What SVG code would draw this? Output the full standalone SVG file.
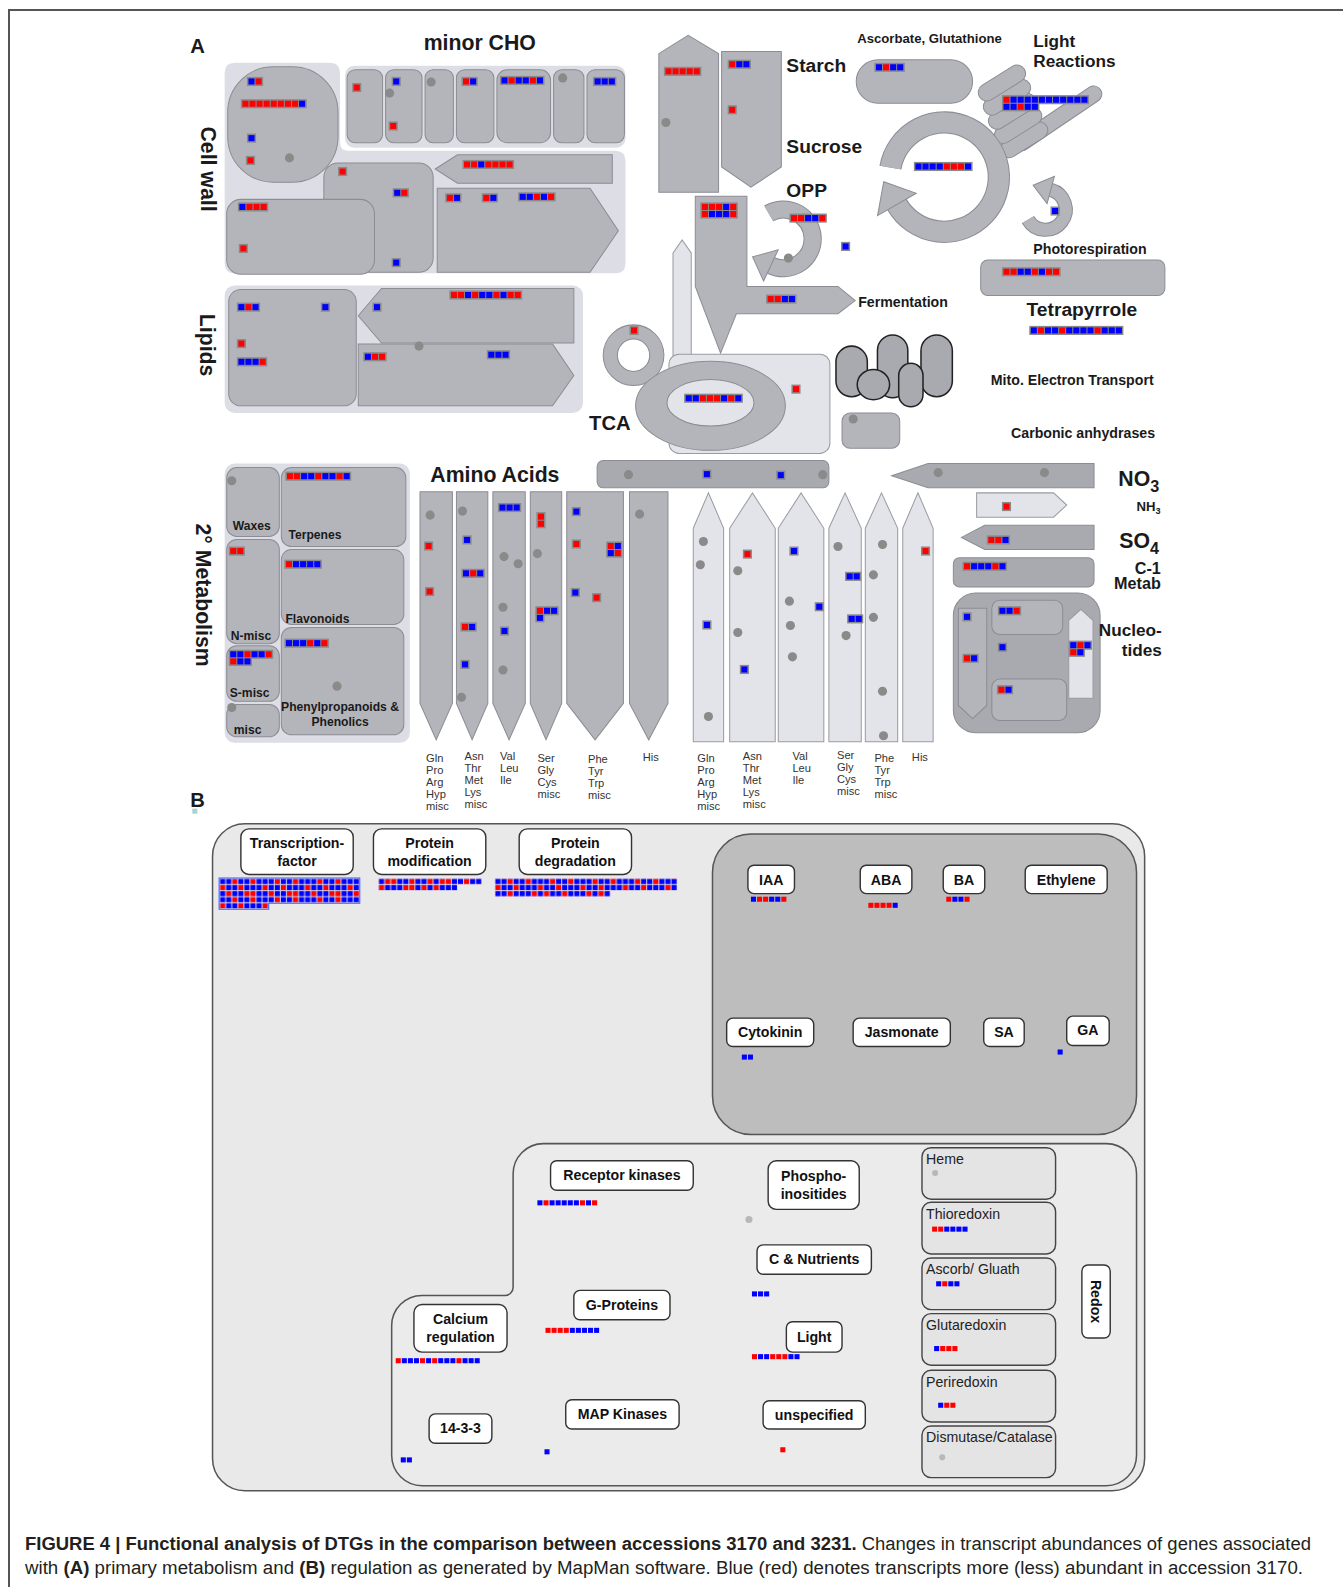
<svg xmlns="http://www.w3.org/2000/svg" width="1343" height="1587" viewBox="0 0 1343 1587">
<style>
.sh{fill:#b4b4bb;stroke:#8c8c94;stroke-width:1}
.pn{fill:#dddde5}
.lt{fill:#e3e3ea;stroke:#9a9aa2;stroke-width:1}
.dk{fill:#a9a9b0;stroke:#8c8c94;stroke-width:1}
.mb{fill:#8a8a8a}
.t{font-family:"Liberation Sans",Arial,Helvetica,sans-serif;font-weight:bold;fill:#1a1a1a}
.aa{font-family:"Liberation Sans",Arial,sans-serif;font-size:11px;fill:#333}
.bx{fill:#fff;stroke:#333;stroke-width:1.4}
.bt{font-family:"Liberation Sans",Arial,sans-serif;font-weight:bold;font-size:14px;text-anchor:middle;fill:#111}
.rx{fill:#e4e4e4;stroke:#444;stroke-width:1.4}
.rt{font-family:"Liberation Sans",Arial,sans-serif;font-size:14px;fill:#222}
.mito{fill:#a9a9b0;stroke:#222;stroke-width:1.5}
.cap{font-family:"Liberation Sans",Arial,sans-serif;font-size:18px;fill:#231f20}
.arcO{fill:none;stroke:#8c8c94}
.arcI{fill:none;stroke:#b4b4bb}
</style>
<defs>
<rect id="r" width="6" height="6" fill="#ff0000"/>
<rect id="b" width="6" height="6" fill="#0000ff"/>
<rect id="r5" width="5" height="5" fill="#ff0000"/>
<rect id="b5" width="5" height="5" fill="#0000ff"/>
<circle id="d" r="4.5" fill="#8a8a8a"/>
<pattern id="mixA" patternUnits="userSpaceOnUse" width="42" height="18">
<rect width="42" height="18" fill="#d4d4e4"/>
<use href="#b5" x="0.5" y="0.5"/><use href="#b5" x="6.5" y="0.5"/><use href="#r5" x="12.5" y="0.5"/><use href="#b5" x="18.5" y="0.5"/><use href="#b5" x="24.5" y="0.5"/><use href="#r5" x="30.5" y="0.5"/><use href="#b5" x="36.5" y="0.5"/>
<use href="#r5" x="0.5" y="6.5"/><use href="#b5" x="6.5" y="6.5"/><use href="#b5" x="12.5" y="6.5"/><use href="#r5" x="18.5" y="6.5"/><use href="#b5" x="24.5" y="6.5"/><use href="#b5" x="30.5" y="6.5"/><use href="#b5" x="36.5" y="6.5"/>
<use href="#b5" x="0.5" y="12.5"/><use href="#r5" x="6.5" y="12.5"/><use href="#b5" x="12.5" y="12.5"/><use href="#b5" x="18.5" y="12.5"/><use href="#r5" x="24.5" y="12.5"/><use href="#r5" x="30.5" y="12.5"/><use href="#b5" x="36.5" y="12.5"/>
</pattern>
<pattern id="mixB" patternUnits="userSpaceOnUse" width="54" height="18">
<rect width="54" height="18" fill="#d4d4e4"/>
<use href="#b5" x="0.5" y="0.5"/><use href="#r5" x="6.5" y="0.5"/><use href="#r5" x="12.5" y="0.5"/><use href="#b5" x="18.5" y="0.5"/><use href="#b5" x="24.5" y="0.5"/><use href="#r5" x="30.5" y="0.5"/><use href="#b5" x="36.5" y="0.5"/><use href="#b5" x="42.5" y="0.5"/><use href="#r5" x="48.5" y="0.5"/>
<use href="#r5" x="0.5" y="6.5"/><use href="#b5" x="6.5" y="6.5"/><use href="#b5" x="12.5" y="6.5"/><use href="#b5" x="18.5" y="6.5"/><use href="#r5" x="24.5" y="6.5"/><use href="#r5" x="30.5" y="6.5"/><use href="#b5" x="36.5" y="6.5"/><use href="#r5" x="42.5" y="6.5"/><use href="#b5" x="48.5" y="6.5"/>
<use href="#b5" x="0.5" y="12.5"/><use href="#b5" x="6.5" y="12.5"/><use href="#r5" x="12.5" y="12.5"/><use href="#b5" x="18.5" y="12.5"/><use href="#b5" x="24.5" y="12.5"/><use href="#b5" x="30.5" y="12.5"/><use href="#r5" x="36.5" y="12.5"/><use href="#b5" x="42.5" y="12.5"/><use href="#r5" x="48.5" y="12.5"/>
</pattern>
</defs>
<rect width="1343" height="1587" fill="#fff"/>
<path d="M9,1587 V10 H1343" fill="none" stroke="#555" stroke-width="2"/>
<g transform="scale(1.01206)">
<text class="t" x="188" y="52" font-size="20">A</text>
<!-- Cell wall -->
<g id="cell-wall">
<path class="pn" d="M232,62 H326 Q336,62 336,72 V141 Q336,149 344,149 H608 Q618,149 618,159 V260 Q618,270 608,270 H232 Q222,270 222,260 V72 Q222,62 232,62 Z"/>
<rect class="sh" x="225" y="66" width="109" height="114" rx="45"/>
<rect class="sh" x="320" y="161" width="108" height="108" rx="14"/>
<rect class="sh" x="224" y="197" width="146" height="74" rx="14"/>
<polygon class="sh" points="430,167 452,153 605,153 605,181 452,181"/>
<polygon class="sh" points="432,186 583,186 611,228 583,269 432,269"/>
<use href="#d" x="286" y="156"/>
<g transform="translate(244,76)"><rect class="mb" width="16" height="9"/><use href="#b" x="1.5" y="1.5"/><use href="#r" x="8.5" y="1.5"/></g>
<g transform="translate(238,98)"><rect class="mb" width="65" height="9"/><use href="#r" x="1.5" y="1.5"/><use href="#r" x="8.5" y="1.5"/><use href="#r" x="15.5" y="1.5"/><use href="#r" x="22.5" y="1.5"/><use href="#r" x="29.5" y="1.5"/><use href="#r" x="36.5" y="1.5"/><use href="#r" x="43.5" y="1.5"/><use href="#r" x="50.5" y="1.5"/><use href="#b" x="57.5" y="1.5"/></g>
<g transform="translate(244,132)"><rect class="mb" width="9" height="9"/><use href="#b" x="1.5" y="1.5"/></g>
<g transform="translate(243,154)"><rect class="mb" width="9" height="9"/><use href="#r" x="1.5" y="1.5"/></g>
<g transform="translate(334,165)"><rect class="mb" width="9" height="9"/><use href="#r" x="1.5" y="1.5"/></g>
<g transform="translate(388,186)"><rect class="mb" width="16" height="9"/><use href="#b" x="1.5" y="1.5"/><use href="#r" x="8.5" y="1.5"/></g>
<g transform="translate(387,255)"><rect class="mb" width="9" height="9"/><use href="#b" x="1.5" y="1.5"/></g>
<g transform="translate(235,200)"><rect class="mb" width="30" height="9"/><use href="#b" x="1.5" y="1.5"/><use href="#r" x="8.5" y="1.5"/><use href="#r" x="15.5" y="1.5"/><use href="#r" x="22.5" y="1.5"/></g>
<g transform="translate(236,241)"><rect class="mb" width="9" height="9"/><use href="#r" x="1.5" y="1.5"/></g>
<g transform="translate(457,158)"><rect class="mb" width="51" height="9"/><use href="#r" x="1.5" y="1.5"/><use href="#r" x="8.5" y="1.5"/><use href="#b" x="15.5" y="1.5"/><use href="#r" x="22.5" y="1.5"/><use href="#r" x="29.5" y="1.5"/><use href="#r" x="36.5" y="1.5"/><use href="#r" x="43.5" y="1.5"/></g>
<g transform="translate(440,191)"><rect class="mb" width="16" height="9"/><use href="#r" x="1.5" y="1.5"/><use href="#b" x="8.5" y="1.5"/></g>
<g transform="translate(476,191)"><rect class="mb" width="16" height="9"/><use href="#r" x="1.5" y="1.5"/><use href="#b" x="8.5" y="1.5"/></g>
<g transform="translate(512,190)"><rect class="mb" width="37" height="9"/><use href="#b" x="1.5" y="1.5"/><use href="#b" x="8.5" y="1.5"/><use href="#r" x="15.5" y="1.5"/><use href="#b" x="22.5" y="1.5"/><use href="#r" x="29.5" y="1.5"/></g>
<text class="t" font-size="21" text-anchor="middle" transform="translate(199,167) rotate(90)">Cell wall</text>
</g>
<!-- minor CHO -->
<g id="minor-cho">
<rect class="pn" x="341" y="65" width="277" height="81" rx="9"/>
<rect class="sh" x="343" y="69" width="35" height="72" rx="8"/>
<rect class="sh" x="381" y="69" width="36" height="72" rx="8"/>
<rect class="sh" x="420" y="69" width="28" height="72" rx="8"/>
<rect class="sh" x="451" y="69" width="37" height="72" rx="8"/>
<rect class="sh" x="491" y="69" width="53" height="72" rx="10"/>
<rect class="sh" x="547" y="69" width="30" height="72" rx="8"/>
<rect class="sh" x="580" y="69" width="37" height="72" rx="8"/>
<use href="#d" x="385" y="92"/><use href="#d" x="426" y="81"/><use href="#d" x="556" y="77"/>
<g transform="translate(348,82)"><rect class="mb" width="9" height="9"/><use href="#r" x="1.5" y="1.5"/></g>
<g transform="translate(387,76)"><rect class="mb" width="9" height="9"/><use href="#b" x="1.5" y="1.5"/></g>
<g transform="translate(384,120)"><rect class="mb" width="9" height="9"/><use href="#r" x="1.5" y="1.5"/></g>
<g transform="translate(456,76)"><rect class="mb" width="16" height="9"/><use href="#r" x="1.5" y="1.5"/><use href="#b" x="8.5" y="1.5"/></g>
<g transform="translate(494,75)"><rect class="mb" width="44" height="9"/><use href="#b" x="1.5" y="1.5"/><use href="#r" x="8.5" y="1.5"/><use href="#b" x="15.5" y="1.5"/><use href="#b" x="22.5" y="1.5"/><use href="#r" x="29.5" y="1.5"/><use href="#b" x="36.5" y="1.5"/></g>
<g transform="translate(586,76)"><rect class="mb" width="23" height="9"/><use href="#b" x="1.5" y="1.5"/><use href="#b" x="8.5" y="1.5"/><use href="#b" x="15.5" y="1.5"/></g>
<text class="t" x="474" y="49" font-size="21" text-anchor="middle">minor CHO</text>
</g>
<!-- Lipids -->
<g id="lipids">
<rect class="pn" x="222" y="282" width="354" height="126" rx="10"/>
<rect class="sh" x="226" y="286" width="126" height="115" rx="12"/>
<polygon class="sh" points="354,312 377,285 567,285 567,339 377,339"/>
<polygon class="sh" points="354,340 546,340 567,371 546,401 354,401"/>
<use href="#d" x="414" y="342"/>
<g transform="translate(234,299)"><rect class="mb" width="23" height="9"/><use href="#b" x="1.5" y="1.5"/><use href="#r" x="8.5" y="1.5"/><use href="#b" x="15.5" y="1.5"/></g>
<g transform="translate(317,299)"><rect class="mb" width="9" height="9"/><use href="#b" x="1.5" y="1.5"/></g>
<g transform="translate(234,335)"><rect class="mb" width="9" height="9"/><use href="#r" x="1.5" y="1.5"/></g>
<g transform="translate(234,353)"><rect class="mb" width="30" height="9"/><use href="#b" x="1.5" y="1.5"/><use href="#b" x="8.5" y="1.5"/><use href="#b" x="15.5" y="1.5"/><use href="#r" x="22.5" y="1.5"/></g>
<g transform="translate(368,299)"><rect class="mb" width="9" height="9"/><use href="#b" x="1.5" y="1.5"/></g>
<g transform="translate(444,287)"><rect class="mb" width="72" height="9"/><use href="#r" x="1.5" y="1.5"/><use href="#r" x="8.5" y="1.5"/><use href="#b" x="15.5" y="1.5"/><use href="#r" x="22.5" y="1.5"/><use href="#b" x="29.5" y="1.5"/><use href="#b" x="36.5" y="1.5"/><use href="#r" x="43.5" y="1.5"/><use href="#b" x="50.5" y="1.5"/><use href="#r" x="57.5" y="1.5"/><use href="#r" x="64.5" y="1.5"/></g>
<g transform="translate(359,348)"><rect class="mb" width="23" height="9"/><use href="#b" x="1.5" y="1.5"/><use href="#r" x="8.5" y="1.5"/><use href="#r" x="15.5" y="1.5"/></g>
<g transform="translate(481,346)"><rect class="mb" width="23" height="9"/><use href="#b" x="1.5" y="1.5"/><use href="#b" x="8.5" y="1.5"/><use href="#b" x="15.5" y="1.5"/></g>
<text class="t" font-size="21" text-anchor="middle" transform="translate(198,341) rotate(90)">Lipids</text>
</g>
<!-- Starch / Sucrose -->
<g id="starch-sucrose">
<polygon class="sh" points="651,53 680,35 710,53 710,190 651,190"/>
<polygon class="sh" points="713,51 772,51 772,165 742,185 713,165"/>
<use href="#d" x="658" y="121"/>
<g transform="translate(656,66)"><rect class="mb" width="37" height="9"/><use href="#r" x="1.5" y="1.5"/><use href="#r" x="8.5" y="1.5"/><use href="#r" x="15.5" y="1.5"/><use href="#r" x="22.5" y="1.5"/><use href="#r" x="29.5" y="1.5"/></g>
<g transform="translate(719,59)"><rect class="mb" width="23" height="9"/><use href="#r" x="1.5" y="1.5"/><use href="#b" x="8.5" y="1.5"/><use href="#b" x="15.5" y="1.5"/></g>
<g transform="translate(719,104)"><rect class="mb" width="9" height="9"/><use href="#r" x="1.5" y="1.5"/></g>
<text class="t" x="777" y="71" font-size="19">Starch</text>
<text class="t" x="777" y="151" font-size="19">Sucrose</text>
</g>
<!-- Glycolysis / fermentation -->
<g id="glycolysis">
<polygon class="sh" points="687,194 738,194 738,283 828,283 845,297 828,310 727.6,310 712,349 687,283"/>
<g transform="translate(692,200)"><rect class="mb" width="37" height="16"/><use href="#r" x="1.5" y="1.5"/><use href="#r" x="8.5" y="1.5"/><use href="#r" x="15.5" y="1.5"/><use href="#b" x="22.5" y="1.5"/><use href="#r" x="29.5" y="1.5"/><use href="#r" x="1.5" y="8.5"/><use href="#b" x="8.5" y="8.5"/><use href="#b" x="15.5" y="8.5"/><use href="#b" x="22.5" y="8.5"/><use href="#r" x="29.5" y="8.5"/></g>
<g transform="translate(757,291)"><rect class="mb" width="30" height="9"/><use href="#r" x="1.5" y="1.5"/><use href="#r" x="8.5" y="1.5"/><use href="#b" x="15.5" y="1.5"/><use href="#b" x="22.5" y="1.5"/></g>
<text class="t" x="848" y="303" font-size="14">Fermentation</text>
</g>
<!-- OPP -->
<g id="opp">
<path class="arcO" stroke-width="18" d="M759.5,210.9 A29,29 0 1 1 761.7,262.3"/>
<path class="arcI" stroke-width="16" d="M759.5,210.9 A29,29 0 1 1 761.7,262.3"/>
<polygon class="sh" points="754.5,277.7 768.9,246.9 743.6,253.8"/>
<use href="#d" x="779" y="255"/>
<g transform="translate(780,211)"><rect class="mb" width="37" height="9"/><use href="#r" x="1.5" y="1.5"/><use href="#r" x="8.5" y="1.5"/><use href="#b" x="15.5" y="1.5"/><use href="#b" x="22.5" y="1.5"/><use href="#r" x="29.5" y="1.5"/></g>
<g transform="translate(831,239)"><rect class="mb" width="9" height="9"/><use href="#b" x="1.5" y="1.5"/></g>
<text class="t" x="777" y="195" font-size="19">OPP</text>
</g>
<!-- Ascorbate -->
<g id="ascorbate">
<rect class="sh" x="846" y="59" width="115" height="43" rx="21.5"/>
<g transform="translate(864,62)"><rect class="mb" width="30" height="9"/><use href="#b" x="1.5" y="1.5"/><use href="#r" x="8.5" y="1.5"/><use href="#b" x="15.5" y="1.5"/><use href="#b" x="22.5" y="1.5"/></g>
<text class="t" x="847" y="42" font-size="13">Ascorbate, Glutathione</text>
</g>
<!-- Light reactions -->
<g id="light-reactions">
<rect class="sh" x="-51" y="-8" width="102" height="16" rx="8" transform="translate(1045,117) rotate(-34)"/>
<rect class="sh" x="-26" y="-8.5" width="52" height="17" rx="8.5" transform="translate(1012,138) rotate(-32)"/>
<rect class="sh" x="-26" y="-8.5" width="52" height="17" rx="8.5" transform="translate(1006,124) rotate(-32)"/>
<rect class="sh" x="-26" y="-8.5" width="52" height="17" rx="8.5" transform="translate(1000,110) rotate(-32)"/>
<rect class="sh" x="-26" y="-8.5" width="52" height="17" rx="8.5" transform="translate(995,96) rotate(-32)"/>
<rect class="sh" x="-26" y="-8.5" width="52" height="17" rx="8.5" transform="translate(990,82) rotate(-32)"/>
<g transform="translate(990,94)"><rect class="mb" width="86" height="9"/><rect class="mb" y="7" width="37" height="9"/><use href="#r" x="1.5" y="1.5"/><use href="#b" x="8.5" y="1.5"/><use href="#b" x="15.5" y="1.5"/><use href="#b" x="22.5" y="1.5"/><use href="#b" x="29.5" y="1.5"/><use href="#b" x="36.5" y="1.5"/><use href="#b" x="43.5" y="1.5"/><use href="#b" x="50.5" y="1.5"/><use href="#b" x="57.5" y="1.5"/><use href="#b" x="64.5" y="1.5"/><use href="#b" x="71.5" y="1.5"/><use href="#b" x="78.5" y="1.5"/><use href="#b" x="1.5" y="8.5"/><use href="#b" x="8.5" y="8.5"/><use href="#r" x="15.5" y="8.5"/><use href="#b" x="22.5" y="8.5"/><use href="#b" x="29.5" y="8.5"/></g>
<text class="t" x="1021" y="46" font-size="17">Light</text>
<text class="t" x="1021" y="66" font-size="17">Reactions</text>
</g>
<!-- Calvin cycle -->
<g id="calvin">
<path class="arcO" stroke-width="22" d="M879.8,165.6 A54,54 0 1 1 886.2,202"/>
<path class="arcI" stroke-width="20" d="M879.8,165.6 A54,54 0 1 1 886.2,202"/>
<polygon class="sh" points="867.1,213 905.3,191 873.2,179.5"/>
<g transform="translate(903,160)"><rect class="mb" width="58" height="9"/><use href="#b" x="1.5" y="1.5"/><use href="#b" x="8.5" y="1.5"/><use href="#b" x="15.5" y="1.5"/><use href="#b" x="22.5" y="1.5"/><use href="#r" x="29.5" y="1.5"/><use href="#r" x="36.5" y="1.5"/><use href="#r" x="43.5" y="1.5"/><use href="#b" x="50.5" y="1.5"/></g>
</g>
<!-- Photorespiration -->
<g id="photorespiration">
<path class="arcO" stroke-width="14" d="M1015.7,217 A20,20 0 1 0 1038.2,187.7"/>
<path class="arcI" stroke-width="12" d="M1015.7,217 A20,20 0 1 0 1038.2,187.7"/>
<polygon class="sh" points="1041.8,174.2 1034.6,201.2 1020.8,183"/>
<g transform="translate(1038,204)"><rect class="mb" width="9" height="9"/><use href="#b" x="1.5" y="1.5"/></g>
<text class="t" x="1021" y="251" font-size="14">Photorespiration</text>
</g>
<!-- Tetrapyrrole -->
<g id="tetrapyrrole">
<rect class="sh" x="969" y="257" width="182" height="35" rx="7"/>
<g transform="translate(990,264)"><rect class="mb" width="58" height="9"/><use href="#r" x="1.5" y="1.5"/><use href="#r" x="8.5" y="1.5"/><use href="#b" x="15.5" y="1.5"/><use href="#b" x="22.5" y="1.5"/><use href="#r" x="29.5" y="1.5"/><use href="#b" x="36.5" y="1.5"/><use href="#r" x="43.5" y="1.5"/><use href="#r" x="50.5" y="1.5"/></g>
<text class="t" x="1069" y="312" font-size="19" text-anchor="middle">Tetrapyrrole</text>
<g transform="translate(1017,322)"><rect class="mb" width="93" height="9"/><use href="#b" x="1.5" y="1.5"/><use href="#r" x="8.5" y="1.5"/><use href="#b" x="15.5" y="1.5"/><use href="#b" x="22.5" y="1.5"/><use href="#r" x="29.5" y="1.5"/><use href="#b" x="36.5" y="1.5"/><use href="#b" x="43.5" y="1.5"/><use href="#b" x="50.5" y="1.5"/><use href="#b" x="57.5" y="1.5"/><use href="#r" x="64.5" y="1.5"/><use href="#b" x="71.5" y="1.5"/><use href="#b" x="78.5" y="1.5"/><use href="#b" x="85.5" y="1.5"/></g>
</g>
<!-- TCA -->
<g id="tca">
<polygon class="lt" points="665,250 674,237 683,250 683,352 665,352"/>
<circle class="sh" cx="626" cy="351" r="30"/>
<circle cx="626" cy="351" r="16" fill="#fff" stroke="#8c8c94"/>
<g transform="translate(622,322)"><rect class="mb" width="9" height="9"/><use href="#r" x="1.5" y="1.5"/></g>
<rect class="lt" x="661" y="350" width="159" height="98" rx="10"/>
<ellipse class="sh" cx="702" cy="401" rx="74" ry="44"/>
<ellipse cx="702" cy="398" rx="43" ry="23" fill="#e3e3ea" stroke="#8c8c94"/>
<g transform="translate(676,389)"><rect class="mb" width="58" height="9"/><use href="#b" x="1.5" y="1.5"/><use href="#b" x="8.5" y="1.5"/><use href="#r" x="15.5" y="1.5"/><use href="#r" x="22.5" y="1.5"/><use href="#r" x="29.5" y="1.5"/><use href="#b" x="36.5" y="1.5"/><use href="#r" x="43.5" y="1.5"/><use href="#b" x="50.5" y="1.5"/></g>
<g transform="translate(782,380)"><rect class="mb" width="9" height="9"/><use href="#r" x="1.5" y="1.5"/></g>
<text class="t" x="582" y="425" font-size="20">TCA</text>
</g>
<!-- Mito -->
<g id="mito">
<rect class="mito" x="826" y="342" width="31" height="50" rx="15.5"/>
<rect class="mito" x="867" y="331" width="30" height="62" rx="15"/>
<rect class="mito" x="910" y="331" width="31" height="61" rx="15.5"/>
<rect class="mito" x="888" y="359" width="24" height="43" rx="12"/>
<ellipse class="mito" cx="863" cy="380" rx="16" ry="15"/>
<text class="t" x="979" y="380" font-size="14">Mito. Electron Transport</text>
</g>
<g id="carbonic">
<rect class="sh" x="832" y="408" width="57" height="35" rx="8"/>
<use href="#d" x="843" y="414"/>
<text class="t" x="999" y="433" font-size="14">Carbonic anhydrases</text>
</g>
<!-- N / S / C1 -->
<g id="aa-bar">
<rect class="dk" x="590" y="455" width="229" height="27" rx="6"/>
<use href="#d" x="621" y="469"/><use href="#d" x="813" y="469"/>
<g transform="translate(694,464)"><rect class="mb" width="9" height="9"/><use href="#b" x="1.5" y="1.5"/></g>
<g transform="translate(767,465)"><rect class="mb" width="9" height="9"/><use href="#b" x="1.5" y="1.5"/></g>
</g>
<g id="no3">
<polygon class="dk" points="881,470 917,458 1081,458 1081,482 917,482"/>
<use href="#d" x="927" y="467"/><use href="#d" x="1032" y="467"/>
<text class="t" x="1105" y="480" font-size="21">NO<tspan font-size="16" dy="6">3</tspan></text>
</g>
<g id="nh3">
<polygon class="lt" points="965,487 1041,487 1054,499 1041,511 965,511"/>
<g transform="translate(990,496)"><rect class="mb" width="9" height="9"/><use href="#r" x="1.5" y="1.5"/></g>
<text class="t" x="1123" y="505" font-size="13">NH<tspan font-size="9" dy="3">3</tspan></text>
</g>
<g id="so4">
<polygon class="dk" points="950,531 973,519 1081,519 1081,543 973,543"/>
<g transform="translate(975,529)"><rect class="mb" width="23" height="9"/><use href="#r" x="1.5" y="1.5"/><use href="#r" x="8.5" y="1.5"/><use href="#b" x="15.5" y="1.5"/></g>
<text class="t" x="1106" y="541" font-size="21">SO<tspan font-size="16" dy="6">4</tspan></text>
</g>
<g id="c1">
<rect class="dk" x="942" y="551" width="139" height="29" rx="6"/>
<g transform="translate(951,555)"><rect class="mb" width="44" height="9"/><use href="#r" x="1.5" y="1.5"/><use href="#b" x="8.5" y="1.5"/><use href="#b" x="15.5" y="1.5"/><use href="#b" x="22.5" y="1.5"/><use href="#r" x="29.5" y="1.5"/><use href="#b" x="36.5" y="1.5"/></g>
<text class="t" x="1147" y="567" font-size="16" text-anchor="end">C-1</text>
<text class="t" x="1147" y="582" font-size="16" text-anchor="end">Metab</text>
</g>
<g id="nucleotides">
<rect class="dk" x="942" y="586" width="145" height="138" rx="22"/>
<polygon class="sh" points="947,601 975,601 975,697 961,710 947,697"/>
<rect class="sh" x="980" y="593" width="70" height="34" rx="8"/>
<rect class="sh" x="980" y="671" width="74" height="41" rx="8"/>
<polygon class="lt" points="1056,613 1068,602 1080,613 1080,690 1056,690"/>
<g transform="translate(951,605)"><rect class="mb" width="9" height="9"/><use href="#b" x="1.5" y="1.5"/></g>
<g transform="translate(951,646)"><rect class="mb" width="16" height="9"/><use href="#r" x="1.5" y="1.5"/><use href="#b" x="8.5" y="1.5"/></g>
<g transform="translate(986,599)"><rect class="mb" width="23" height="9"/><use href="#b" x="1.5" y="1.5"/><use href="#b" x="8.5" y="1.5"/><use href="#r" x="15.5" y="1.5"/></g>
<g transform="translate(986,635)"><rect class="mb" width="9" height="9"/><use href="#b" x="1.5" y="1.5"/></g>
<g transform="translate(985,677)"><rect class="mb" width="16" height="9"/><use href="#r" x="1.5" y="1.5"/><use href="#b" x="8.5" y="1.5"/></g>
<g transform="translate(1056,633)"><rect class="mb" width="23" height="9"/><rect class="mb" y="7" width="16" height="9"/><use href="#b" x="1.5" y="1.5"/><use href="#r" x="8.5" y="1.5"/><use href="#b" x="15.5" y="1.5"/><use href="#r" x="1.5" y="8.5"/><use href="#b" x="8.5" y="8.5"/></g>
<text class="t" x="1148" y="628" font-size="17" text-anchor="end">Nucleo-</text>
<text class="t" x="1148" y="648" font-size="17" text-anchor="end">tides</text>
</g>
<!-- 2nd metabolism -->
<g id="secondary-metabolism">
<rect class="pn" x="222" y="458" width="183" height="276" rx="10"/>
<rect class="sh" x="224" y="462" width="52" height="68" rx="10"/>
<rect class="sh" x="278" y="462" width="123" height="78" rx="10"/>
<rect class="sh" x="224" y="533" width="52" height="103" rx="10"/>
<rect class="sh" x="278" y="543" width="121" height="74" rx="10"/>
<rect class="sh" x="224" y="638" width="52" height="55" rx="10"/>
<rect class="sh" x="224" y="696" width="52" height="32" rx="10"/>
<rect class="sh" x="278" y="620" width="121" height="106" rx="10"/>
<use href="#d" x="229" y="475"/><use href="#d" x="229" y="699"/><use href="#d" x="333" y="678"/>
<g transform="translate(282,466)"><rect class="mb" width="65" height="9"/><use href="#r" x="1.5" y="1.5"/><use href="#r" x="8.5" y="1.5"/><use href="#b" x="15.5" y="1.5"/><use href="#b" x="22.5" y="1.5"/><use href="#r" x="29.5" y="1.5"/><use href="#b" x="36.5" y="1.5"/><use href="#b" x="43.5" y="1.5"/><use href="#r" x="50.5" y="1.5"/><use href="#b" x="57.5" y="1.5"/></g>
<g transform="translate(226,540)"><rect class="mb" width="16" height="9"/><use href="#r" x="1.5" y="1.5"/><use href="#r" x="8.5" y="1.5"/></g>
<g transform="translate(281,553)"><rect class="mb" width="37" height="9"/><use href="#r" x="1.5" y="1.5"/><use href="#b" x="8.5" y="1.5"/><use href="#b" x="15.5" y="1.5"/><use href="#b" x="22.5" y="1.5"/><use href="#b" x="29.5" y="1.5"/></g>
<g transform="translate(226,642)"><rect class="mb" width="44" height="9"/><rect class="mb" y="7" width="23" height="9"/><use href="#b" x="1.5" y="1.5"/><use href="#b" x="8.5" y="1.5"/><use href="#r" x="15.5" y="1.5"/><use href="#b" x="22.5" y="1.5"/><use href="#b" x="29.5" y="1.5"/><use href="#r" x="36.5" y="1.5"/><use href="#r" x="1.5" y="8.5"/><use href="#b" x="8.5" y="8.5"/><use href="#b" x="15.5" y="8.5"/></g>
<g transform="translate(281,631)"><rect class="mb" width="44" height="9"/><use href="#b" x="1.5" y="1.5"/><use href="#b" x="8.5" y="1.5"/><use href="#b" x="15.5" y="1.5"/><use href="#r" x="22.5" y="1.5"/><use href="#b" x="29.5" y="1.5"/><use href="#r" x="36.5" y="1.5"/></g>
<text class="t" x="230" y="524" font-size="12">Waxes</text>
<text class="t" x="285" y="533" font-size="12">Terpenes</text>
<text class="t" x="228" y="632" font-size="12">N-misc</text>
<text class="t" x="282" y="616" font-size="12">Flavonoids</text>
<text class="t" x="227" y="689" font-size="12">S-misc</text>
<text class="t" x="231" y="725" font-size="12">misc</text>
<text class="t" x="336" y="703" font-size="12" text-anchor="middle">Phenylpropanoids &amp;</text>
<text class="t" x="336" y="717" font-size="12" text-anchor="middle">Phenolics</text>
<text class="t" font-size="21" text-anchor="middle" transform="translate(194,588) rotate(90)">2° Metabolism</text>
</g>
<!-- Amino acids -->
<g id="amino-acids">
<text class="t" x="489" y="476" font-size="21" text-anchor="middle">Amino Acids</text>
<polygon class="sh" points="415,486 447,486 447,695 431,731 415,695"/>
<polygon class="sh" points="451,486 482,486 482,695 466.5,731 451,695"/>
<polygon class="sh" points="487,486 519,486 519,695 503,731 487,695"/>
<polygon class="sh" points="524,486 555,486 555,695 539.5,731 524,695"/>
<polygon class="sh" points="560,486 616,486 616,695 588,731 560,695"/>
<polygon class="sh" points="622,486 660,486 660,695 641,731 622,695"/>
<polygon class="lt" points="685,522 700,487 715,522 715,733 685,733"/>
<polygon class="lt" points="721,522 743.5,487 766,522 766,733 721,733"/>
<polygon class="lt" points="769,522 791.5,487 814,522 814,733 769,733"/>
<polygon class="lt" points="819,522 835,487 851,522 851,733 819,733"/>
<polygon class="lt" points="855,522 871,487 887,522 887,733 855,733"/>
<polygon class="lt" points="892,522 907,487 922,522 922,733 892,733"/>
<use href="#d" x="425" y="509"/><use href="#d" x="457" y="505"/><use href="#d" x="456" y="689"/><use href="#d" x="498" y="550"/><use href="#d" x="512" y="557"/><use href="#d" x="497" y="600"/><use href="#d" x="497" y="662"/><use href="#d" x="531" y="547"/><use href="#d" x="632" y="508"/>
<use href="#d" x="695" y="535"/><use href="#d" x="692" y="558"/><use href="#d" x="700" y="708"/><use href="#d" x="729" y="564"/><use href="#d" x="729" y="625"/><use href="#d" x="780" y="594"/><use href="#d" x="781" y="618"/><use href="#d" x="783" y="649"/><use href="#d" x="828" y="540"/><use href="#d" x="836" y="628"/><use href="#d" x="872" y="538"/><use href="#d" x="863" y="568"/><use href="#d" x="863" y="610"/><use href="#d" x="872" y="683"/><use href="#d" x="873" y="727"/>
<g transform="translate(419,535)"><rect class="mb" width="9" height="9"/><use href="#r" x="1.5" y="1.5"/></g>
<g transform="translate(420,580)"><rect class="mb" width="9" height="9"/><use href="#r" x="1.5" y="1.5"/></g>
<g transform="translate(457,529)"><rect class="mb" width="9" height="9"/><use href="#b" x="1.5" y="1.5"/></g>
<g transform="translate(456,562)"><rect class="mb" width="23" height="9"/><use href="#b" x="1.5" y="1.5"/><use href="#r" x="8.5" y="1.5"/><use href="#b" x="15.5" y="1.5"/></g>
<g transform="translate(455,615)"><rect class="mb" width="16" height="9"/><use href="#r" x="1.5" y="1.5"/><use href="#b" x="8.5" y="1.5"/></g>
<g transform="translate(455,652)"><rect class="mb" width="9" height="9"/><use href="#b" x="1.5" y="1.5"/></g>
<g transform="translate(492,497)"><rect class="mb" width="23" height="9"/><use href="#b" x="1.5" y="1.5"/><use href="#b" x="8.5" y="1.5"/><use href="#b" x="15.5" y="1.5"/></g>
<g transform="translate(494,619)"><rect class="mb" width="9" height="9"/><use href="#b" x="1.5" y="1.5"/></g>
<g transform="translate(530,506)"><rect class="mb" width="9" height="16"/><use href="#r" x="1.5" y="1.5"/><use href="#r" x="1.5" y="8.5"/></g>
<g transform="translate(529,599)"><rect class="mb" width="23" height="9"/><rect class="mb" y="7" width="9" height="9"/><use href="#r" x="1.5" y="1.5"/><use href="#b" x="8.5" y="1.5"/><use href="#b" x="15.5" y="1.5"/><use href="#b" x="1.5" y="8.5"/></g>
<g transform="translate(565,501)"><rect class="mb" width="9" height="9"/><use href="#b" x="1.5" y="1.5"/></g>
<g transform="translate(565,533)"><rect class="mb" width="9" height="9"/><use href="#r" x="1.5" y="1.5"/></g>
<g transform="translate(599,535)"><rect class="mb" width="16" height="16"/><use href="#r" x="1.5" y="1.5"/><use href="#b" x="8.5" y="1.5"/><use href="#b" x="1.5" y="8.5"/><use href="#r" x="8.5" y="8.5"/></g>
<g transform="translate(564,581)"><rect class="mb" width="9" height="9"/><use href="#b" x="1.5" y="1.5"/></g>
<g transform="translate(585,586)"><rect class="mb" width="9" height="9"/><use href="#r" x="1.5" y="1.5"/></g>
<g transform="translate(694,613)"><rect class="mb" width="9" height="9"/><use href="#b" x="1.5" y="1.5"/></g>
<g transform="translate(734,543)"><rect class="mb" width="9" height="9"/><use href="#r" x="1.5" y="1.5"/></g>
<g transform="translate(731,657)"><rect class="mb" width="9" height="9"/><use href="#b" x="1.5" y="1.5"/></g>
<g transform="translate(780,540)"><rect class="mb" width="9" height="9"/><use href="#b" x="1.5" y="1.5"/></g>
<g transform="translate(805,595)"><rect class="mb" width="9" height="9"/><use href="#b" x="1.5" y="1.5"/></g>
<g transform="translate(835,565)"><rect class="mb" width="16" height="9"/><use href="#b" x="1.5" y="1.5"/><use href="#b" x="8.5" y="1.5"/></g>
<g transform="translate(837,607)"><rect class="mb" width="16" height="9"/><use href="#b" x="1.5" y="1.5"/><use href="#b" x="8.5" y="1.5"/></g>
<g transform="translate(910,540)"><rect class="mb" width="9" height="9"/><use href="#r" x="1.5" y="1.5"/></g>
<text class="aa" x="421" y="753">Gln<tspan x="421" dy="11.8">Pro</tspan><tspan x="421" dy="11.8">Arg</tspan><tspan x="421" dy="11.8">Hyp</tspan><tspan x="421" dy="11.8">misc</tspan></text>
<text class="aa" x="459" y="751">Asn<tspan x="459" dy="11.8">Thr</tspan><tspan x="459" dy="11.8">Met</tspan><tspan x="459" dy="11.8">Lys</tspan><tspan x="459" dy="11.8">misc</tspan></text>
<text class="aa" x="494" y="751">Val<tspan x="494" dy="11.8">Leu</tspan><tspan x="494" dy="11.8">Ile</tspan></text>
<text class="aa" x="531" y="753">Ser<tspan x="531" dy="11.8">Gly</tspan><tspan x="531" dy="11.8">Cys</tspan><tspan x="531" dy="11.8">misc</tspan></text>
<text class="aa" x="581" y="754">Phe<tspan x="581" dy="11.8">Tyr</tspan><tspan x="581" dy="11.8">Trp</tspan><tspan x="581" dy="11.8">misc</tspan></text>
<text class="aa" x="635" y="752">His</text>
<text class="aa" x="689" y="753">Gln<tspan x="689" dy="11.8">Pro</tspan><tspan x="689" dy="11.8">Arg</tspan><tspan x="689" dy="11.8">Hyp</tspan><tspan x="689" dy="11.8">misc</tspan></text>
<text class="aa" x="734" y="751">Asn<tspan x="734" dy="11.8">Thr</tspan><tspan x="734" dy="11.8">Met</tspan><tspan x="734" dy="11.8">Lys</tspan><tspan x="734" dy="11.8">misc</tspan></text>
<text class="aa" x="783" y="751">Val<tspan x="783" dy="11.8">Leu</tspan><tspan x="783" dy="11.8">Ile</tspan></text>
<text class="aa" x="827" y="750">Ser<tspan x="827" dy="11.8">Gly</tspan><tspan x="827" dy="11.8">Cys</tspan><tspan x="827" dy="11.8">misc</tspan></text>
<text class="aa" x="864" y="753">Phe<tspan x="864" dy="11.8">Tyr</tspan><tspan x="864" dy="11.8">Trp</tspan><tspan x="864" dy="11.8">misc</tspan></text>
<text class="aa" x="901" y="752">His</text>
</g>
<!-- Panel B -->
<text class="t" x="188" y="797" font-size="20">B</text>
<rect x="190" y="799" width="5" height="5" fill="#a6d4cc"/>
<g id="panel-b">
<rect x="210" y="814" width="921" height="659" rx="32" fill="#e9e9e9" stroke="#555" stroke-width="1.5"/>
<rect x="704" y="824" width="419" height="297" rx="38" fill="#bdbdbd" stroke="#555" stroke-width="1.5"/>
<path d="M387,1310 A30,30 0 0 1 417,1280 H499 A8,8 0 0 0 507,1272 V1160 A30,30 0 0 1 537,1130 H1093 A30,30 0 0 1 1123,1160 V1438 A30,30 0 0 1 1093,1468 H417 A30,30 0 0 1 387,1438 Z" fill="#ebebeb" stroke="#555" stroke-width="1.5"/>
</g>
<g id="transcription-factor">
<rect class="bx" x="238" y="819" width="111" height="45" rx="8"/>
<text class="bt" x="293.5" y="838">Transcription-</text><text class="bt" x="293.5" y="856">factor</text>
<g transform="translate(217,868)"><rect width="138" height="24" fill="url(#mixA)"/><rect y="24" width="48" height="6" fill="url(#mixA)"/><path d="M-0.5,-0.5 H138.5 V24.5 H48.5 V30.5 H-0.5 Z" fill="none" stroke="#3a5cff" stroke-width="1"/></g>
</g>
<g id="protein-modification">
<rect class="bx" x="369" y="819" width="111" height="45" rx="8"/>
<text class="bt" x="424.5" y="838">Protein</text><text class="bt" x="424.5" y="856">modification</text>
<g transform="translate(374,868)"><rect width="102" height="6" fill="url(#mixB)"/><rect y="6" width="78" height="6" fill="url(#mixB)"/></g>
</g>
<g id="protein-degradation">
<rect class="bx" x="513" y="819" width="111" height="45" rx="8"/>
<text class="bt" x="568.5" y="838">Protein</text><text class="bt" x="568.5" y="856">degradation</text>
<g transform="translate(489,868)"><rect width="180" height="12" fill="url(#mixA)"/><rect y="12" width="114" height="6" fill="url(#mixB)"/></g>
</g>
<g id="iaa"><rect class="bx" x="739" y="855" width="46" height="28" rx="6"/><text class="bt" x="762" y="874">IAA</text>
<g transform="translate(742,886)"><use href="#b5"/><use href="#r5" x="6"/><use href="#r5" x="12"/><use href="#b5" x="18"/><use href="#b5" x="24"/><use href="#r5" x="30"/></g></g>
<g id="aba"><rect class="bx" x="850" y="855" width="51" height="28" rx="6"/><text class="bt" x="875.5" y="874">ABA</text>
<g transform="translate(858,892)"><use href="#r5"/><use href="#r5" x="6"/><use href="#r5" x="12"/><use href="#r5" x="18"/><use href="#b5" x="24"/></g></g>
<g id="ba"><rect class="bx" x="932" y="855" width="41" height="28" rx="6"/><text class="bt" x="952.5" y="874">BA</text>
<g transform="translate(935,886)"><use href="#r5"/><use href="#b5" x="6"/><use href="#b5" x="12"/><use href="#r5" x="18"/></g></g>
<g id="ethylene"><rect class="bx" x="1013" y="855" width="81" height="28" rx="6"/><text class="bt" x="1053.5" y="874">Ethylene</text></g>
<g id="cytokinin"><rect class="bx" x="718" y="1006" width="86" height="28" rx="6"/><text class="bt" x="761" y="1025">Cytokinin</text>
<g transform="translate(733,1042)"><use href="#b5"/><use href="#b5" x="6"/></g></g>
<g id="jasmonate"><rect class="bx" x="843" y="1006" width="96" height="28" rx="6"/><text class="bt" x="891" y="1025">Jasmonate</text></g>
<g id="sa"><rect class="bx" x="972" y="1006" width="40" height="28" rx="6"/><text class="bt" x="992" y="1025">SA</text></g>
<g id="ga"><rect class="bx" x="1054" y="1004" width="42" height="29" rx="6"/><text class="bt" x="1075" y="1023">GA</text>
<use href="#b5" x="1045" y="1037"/></g>
<g id="receptor-kinases"><rect class="bx" x="544" y="1147" width="141" height="29" rx="6"/><text class="bt" x="614.5" y="1166">Receptor kinases</text>
<g transform="translate(531,1186)"><use href="#b5"/><use href="#r5" x="6"/><use href="#b5" x="12"/><use href="#b5" x="18"/><use href="#b5" x="24"/><use href="#b5" x="30"/><use href="#b5" x="36"/><use href="#r5" x="42"/><use href="#b5" x="48"/><use href="#r5" x="54"/></g></g>
<g id="phosphoinositides"><rect class="bx" x="759" y="1147" width="90" height="48" rx="8"/><text class="bt" x="804" y="1167">Phospho-</text><text class="bt" x="804" y="1185">inositides</text>
<circle cx="740" cy="1205" r="3.5" fill="#b8b8b8"/></g>
<g id="c-nutrients"><rect class="bx" x="748" y="1230" width="113" height="29" rx="6"/><text class="bt" x="804.5" y="1249">C &amp; Nutrients</text>
<g transform="translate(743,1276)"><use href="#b5"/><use href="#b5" x="6"/><use href="#b5" x="12"/></g></g>
<g id="g-proteins"><rect class="bx" x="567" y="1275" width="95" height="29" rx="6"/><text class="bt" x="614.5" y="1294">G-Proteins</text>
<g transform="translate(539,1312)"><use href="#r5"/><use href="#r5" x="6"/><use href="#r5" x="12"/><use href="#r5" x="18"/><use href="#b5" x="24"/><use href="#b5" x="30"/><use href="#b5" x="36"/><use href="#b5" x="42"/><use href="#b5" x="48"/></g></g>
<g id="calcium-regulation"><rect class="bx" x="409" y="1289" width="92" height="47" rx="8"/><text class="bt" x="455" y="1308">Calcium</text><text class="bt" x="455" y="1326">regulation</text>
<g transform="translate(391,1342)"><use href="#r5"/><use href="#b5" x="6"/><use href="#b5" x="12"/><use href="#b5" x="18"/><use href="#r5" x="24"/><use href="#b5" x="30"/><use href="#r5" x="36"/><use href="#b5" x="42"/><use href="#b5" x="48"/><use href="#b5" x="54"/><use href="#r5" x="60"/><use href="#b5" x="66"/><use href="#b5" x="72"/><use href="#b5" x="78"/></g></g>
<g id="light"><rect class="bx" x="777" y="1306" width="55" height="30" rx="6"/><text class="bt" x="804.5" y="1326">Light</text>
<g transform="translate(743,1338)"><use href="#r5"/><use href="#b5" x="6"/><use href="#b5" x="12"/><use href="#r5" x="18"/><use href="#r5" x="24"/><use href="#r5" x="30"/><use href="#b5" x="36"/><use href="#b5" x="42"/></g></g>
<g id="p14-3-3"><rect class="bx" x="424" y="1397" width="62" height="29" rx="6"/><text class="bt" x="455" y="1416">14-3-3</text>
<g transform="translate(396,1440)"><use href="#b5"/><use href="#b5" x="6"/></g></g>
<g id="map-kinases"><rect class="bx" x="559" y="1383" width="112" height="29" rx="6"/><text class="bt" x="615" y="1402">MAP Kinases</text>
<use href="#b5" x="538" y="1432"/></g>
<g id="unspecified"><rect class="bx" x="754" y="1384" width="101" height="28" rx="6"/><text class="bt" x="804.5" y="1403">unspecified</text>
<use href="#r5" x="771" y="1430"/></g>
<g id="redox">
<rect class="rx" x="911" y="1134" width="132" height="51" rx="9"/><text class="rt" x="915" y="1150">Heme</text><circle cx="924" cy="1159" r="3" fill="#b8b8b8"/>
<rect class="rx" x="911" y="1188" width="132" height="51" rx="9"/><text class="rt" x="915" y="1204">Thioredoxin</text>
<g transform="translate(921,1212)"><use href="#r5"/><use href="#r5" x="6"/><use href="#b5" x="12"/><use href="#b5" x="18"/><use href="#b5" x="24"/><use href="#b5" x="30"/></g>
<rect class="rx" x="911" y="1243" width="132" height="51" rx="9"/><text class="rt" x="915" y="1259">Ascorb/ Gluath</text>
<g transform="translate(925,1266)"><use href="#b5"/><use href="#r5" x="6"/><use href="#b5" x="12"/><use href="#b5" x="18"/></g>
<rect class="rx" x="911" y="1298" width="132" height="51" rx="9"/><text class="rt" x="915" y="1314">Glutaredoxin</text>
<g transform="translate(923,1330)"><use href="#b5"/><use href="#r5" x="6"/><use href="#r5" x="12"/><use href="#r5" x="18"/></g>
<rect class="rx" x="911" y="1354" width="132" height="51" rx="9"/><text class="rt" x="915" y="1370">Periredoxin</text>
<g transform="translate(927,1386)"><use href="#b5"/><use href="#r5" x="6"/><use href="#r5" x="12"/></g>
<rect class="rx" x="911" y="1409" width="132" height="51" rx="9"/><text class="rt" x="915" y="1425">Dismutase/Catalase</text><circle cx="931" cy="1440" r="3" fill="#b8b8b8"/>
<rect class="bx" x="1069" y="1250" width="28" height="72" rx="6"/>
<text class="bt" transform="translate(1078,1286) rotate(90)">Redox</text>
</g>
</g>
<text class="cap" x="25" y="1550" textLength="1286" lengthAdjust="spacingAndGlyphs"><tspan font-weight="bold">FIGURE 4 | Functional analysis of DTGs in the comparison between accessions 3170 and 3231.</tspan> Changes in transcript abundances of genes associated</text>
<text class="cap" x="25" y="1574" textLength="1278" lengthAdjust="spacingAndGlyphs">with <tspan font-weight="bold">(A)</tspan> primary metabolism and <tspan font-weight="bold">(B)</tspan> regulation as generated by MapMan software. Blue (red) denotes transcripts more (less) abundant in accession 3170.</text>
</svg>
